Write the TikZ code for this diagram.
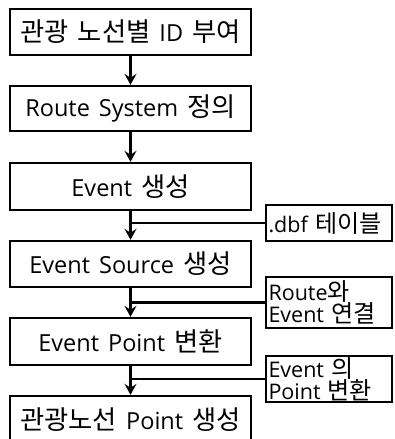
\documentclass[tikz,border=0pt]{standalone}
\usepackage{fontspec}
\setmainfont{Open Sans}
\newfontfamily\kr{Noto Sans CJK KR}[Scale=1.12]
\newcommand{\ko}[1]{{\kr #1}}
\newcommand{\txtfont}{\fontsize{23.5}{24}\selectfont\spaceskip=9pt plus 1pt minus 1pt\relax}
\newcommand{\sidefont}{\fontsize{21.5}{22.5}\selectfont\spaceskip=7pt plus 1pt minus 1pt\relax}
\usetikzlibrary{arrows.meta}
\begin{document}
\begin{tikzpicture}[x=1pt,y=-1pt,
  mainbox/.style={font=\txtfont,draw,line width=2.4pt,minimum width=241pt,inner sep=0pt},
  sidebox/.style={font=\sidefont,draw,line width=2.4pt,minimum width=126pt,inner xsep=2.5pt,inner ysep=1pt,align=left,text width=121pt},
  flow/.style={line width=2.2pt,-{Stealth[length=11pt,width=12pt,inset=4pt]}},
  link/.style={line width=2.2pt}]
\useasboundingbox (0,0) rectangle (395,439);
\clip (0,0) rectangle (395,439);
\node[mainbox,minimum height=46pt] (b1) at (130.5,32) {\ko{관광} \ko{노선별} ID \ko{부여}};
\node[mainbox,minimum height=45pt] (b2) at (130.5,108.5) {Route System \ko{정의}};
\node[mainbox,minimum height=47pt] (b3) at (130.5,186.5) {Event \ko{생성}};
\node[mainbox,minimum height=46pt] (b4) at (130.5,264) {Event Source \ko{생성}};
\node[mainbox,minimum height=47pt] (b5) at (130.5,341.5) {Event Point \ko{변환}};
\node[mainbox,minimum height=48pt] (b6) at (130.5,420) {\ko{관광노선} Point \ko{생성}};
\node[sidebox,minimum height=36pt] (s1) at (329,223) {.dbf~\ko{테이블}};
\node[sidebox,minimum height=51pt] (s2) at (329,302.5) {Route\ko{와}\\Event~\ko{연결}};
\node[sidebox,minimum height=44pt] (s3) at (329,379) {Event~\ko{의}\\Point~\ko{변환}};
\draw[flow] (b1) -- (b2);
\draw[flow] (b2) -- (b3);
\draw[flow] (b3) -- (b4);
\draw[flow] (b4) -- (b5);
\draw[flow] (b5) -- (b6);
\draw[link] (s1.west) -- (s1.west -| b3.south);
\draw[link] (s2.west) -- (s2.west -| b4.south);
\draw[link] (s3.west) -- (s3.west -| b5.south);
\end{tikzpicture}
\end{document}
